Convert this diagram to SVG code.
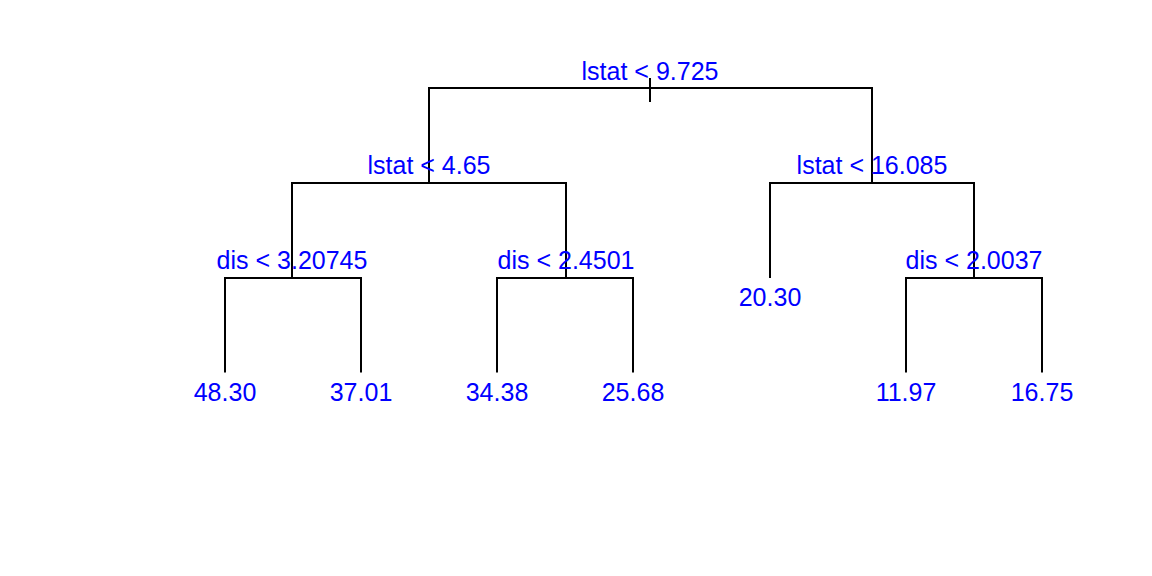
<svg xmlns="http://www.w3.org/2000/svg" width="1152" height="576" viewBox="0 0 1152 576">
<style>
.e{fill:none;stroke:#000;stroke-width:2;stroke-linecap:butt}
text{font-family:"Liberation Sans",Arial,sans-serif;font-size:25px;fill:#0000FF;text-anchor:middle}
</style>
<rect width="1152" height="576" fill="#fff"/>
<g id="connectors">
<path class="e" d="M429,183 V88 H872 V183"/>
<path class="e" d="M650,78 V102"/>
<path class="e" d="M292,278 V183 H566 V278"/>
<path class="e" d="M770,278 V183 H974 V278"/>
<path class="e" d="M225,372.5 V278 H361 V372.5"/>
<path class="e" d="M497,372.5 V278 H633 V372.5"/>
<path class="e" d="M906,372.5 V278 H1042 V372.5"/>
</g>
<g id="n1"><text x="650" y="79.5">lstat &lt; 9.725</text></g>
<g id="n2"><text x="429" y="174">lstat &lt; 4.65</text></g>
<g id="n3"><text x="872" y="174">lstat &lt; 16.085</text></g>
<g id="n4"><text x="292" y="268.5">dis &lt; 3.20745</text></g>
<g id="n5"><text x="566" y="268.5">dis &lt; 2.4501</text></g>
<g id="n6"><text x="770" y="306">20.30</text></g>
<g id="n7"><text x="974" y="268.5">dis &lt; 2.0037</text></g>
<g id="l1"><text x="225" y="401">48.30</text></g>
<g id="l2"><text x="361" y="401">37.01</text></g>
<g id="l3"><text x="497" y="401">34.38</text></g>
<g id="l4"><text x="633" y="401">25.68</text></g>
<g id="l5"><text x="906" y="401">11.97</text></g>
<g id="l6"><text x="1042" y="401">16.75</text></g>
</svg>
